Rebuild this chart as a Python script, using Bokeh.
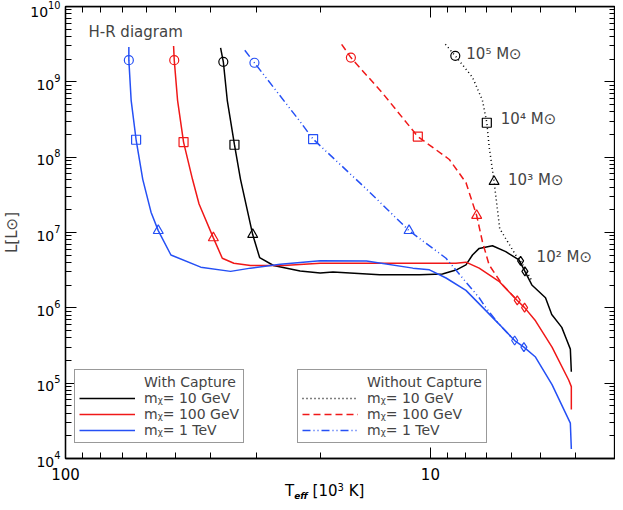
import numpy as np
from bokeh.plotting import figure
from bokeh.layouts import column
from bokeh.models import (Range1d, LogAxis, FixedTicker, NumeralTickFormatter,
                          CustomJSTickFormatter, Legend, LegendItem, Label, Div)
from bokeh.embed import file_html
from bokeh.resources import INLINE

# ---- data: log10(T_eff / 10^3 K), log10(L / L_sun) ----
# With capture
bk_wc_logT = [1.575, 1.5675, 1.5567, 1.537, 1.5204, 1.487, 1.468, 1.430, 1.357, 1.302, 1.267,
              1.139, 1.030, 0.967, 0.930, 0.9026, 0.8847, 0.8664, 0.830, 0.7936, 0.7574,
              0.741, 0.722, 0.6846, 0.6675, 0.640, 0.6293, 0.6165, 0.6138]
bk_wc_logL = [9.45, 9.266, 8.755, 8.165, 7.706, 6.9725, 6.667, 6.562, 6.488, 6.461, 6.4745,
              6.439, 6.439, 6.448, 6.501, 6.570, 6.701, 6.789, 6.824, 6.746, 6.636,
              6.484, 6.304, 6.134, 5.911, 5.7405, 5.610, 5.452, 5.151]
rd_wc_logT = [1.7038, 1.702, 1.6929, 1.6765, 1.652, 1.634, 1.5948, 1.5703, 1.5387, 1.493, 1.4024,
              1.302, 1.175, 0.930, 0.9026, 0.8664, 0.812, 0.762, 0.7419, 0.712, 0.6667,
              0.6211, 0.6138, 0.6138]
rd_wc_logL = [9.476, 9.288, 8.755, 8.2005, 7.706, 7.379, 6.929, 6.658, 6.592, 6.562, 6.562,
              6.592, 6.592, 6.592, 6.606, 6.527, 6.3526, 6.098, 6.003, 5.828, 5.478,
              5.042, 4.954, 4.649]
bl_wc_logT = [1.8264, 1.8264, 1.8201, 1.8065, 1.7883, 1.7656, 1.7458, 1.7111, 1.6294, 1.5476,
              1.493, 1.4114, 1.302, 1.175, 1.048, 1.0026, 0.9571, 0.9026, 0.8481, 0.812,
              0.7691, 0.7438, 0.712, 0.6667, 0.6165, 0.6138]
bl_wc_logL = [9.463, 9.288, 8.755, 8.231, 7.706, 7.270, 7.025, 6.701, 6.540, 6.484,
              6.527, 6.579, 6.625, 6.6226, 6.527, 6.5046, 6.396, 6.232, 5.963, 5.784,
              5.566, 5.478, 5.347, 4.980, 4.469, 4.125]
# Without capture
bk_nc_logT = [0.959, 0.9318, 0.8847, 0.8574, 0.8454, 0.8391, 0.8255, 0.8165, 0.810, 0.7936,
              0.7664, 0.7528, 0.7391, 0.7212]
bk_nc_logL = [9.498, 9.345, 9.060, 8.755, 8.457, 8.143, 7.676, 7.313, 7.051, 6.920,
              6.701, 6.6226, 6.5046, 6.3526]
rd_nc_logT = [1.2433, 1.2179, 1.130, 1.0345, 0.9481, 0.9026, 0.8732, 0.8574, 0.8391, 0.8029, 0.762]
rd_nc_logL = [9.498, 9.322, 8.843, 8.274, 7.969, 7.663, 7.2255, 6.877, 6.570, 6.308, 6.098]
bl_nc_logT = [1.5087, 1.4822, 1.3569, 1.3215, 1.175, 1.0585, 0.9571, 0.912, 0.8664, 0.8481,
              0.812, 0.7691]
bl_nc_logL = [9.419, 9.253, 8.4705, 8.240, 7.575, 7.025, 6.658, 6.396, 6.134, 6.003,
              5.784, 5.566]

# mass markers: 10^5, 10^4, 10^3, 10^2 M_sun
bk_wc_mk_logT = [1.5675, 1.537, 1.487, 0.741]
bk_wc_mk_logL = [9.266, 8.165, 6.9725, 6.484]
rd_wc_mk_logT = [1.702, 1.6765, 1.5948, 0.7419]
rd_wc_mk_logL = [9.288, 8.2005, 6.929, 6.003]
bl_wc_mk_logT = [1.8264, 1.8065, 1.7458, 0.7438]
bl_wc_mk_logL = [9.288, 8.231, 7.025, 5.478]
bk_nc_mk_logT = [0.9318, 0.8454, 0.8255, 0.7528]
bk_nc_mk_logL = [9.345, 8.457, 7.676, 6.6226]
rd_nc_mk_logT = [1.2179, 1.0345, 0.8732, 0.762]
rd_nc_mk_logL = [9.322, 8.274, 7.2255, 6.098]
bl_nc_mk_logT = [1.4822, 1.3215, 1.0585, 0.7691]
bl_nc_mk_logL = [9.253, 8.240, 7.025, 5.566]
mass_labels = ["10\u2075 M\u2299", "10\u2074 M\u2299", "10\u00b3 M\u2299", "10\u00b2 M\u2299"]
marker_shapes = ["circle", "square", "triangle", "diamond"]

legend_wc_title = "With Capture"
legend_nc_title = "Without Capture"
legend_labels = ["m\u1d6a= 10 GeV", "m\u1d6a= 100 GeV", "m\u1d6a= 1 TeV"]

x_major = [100, 10]
x_minor = [90, 80, 70, 60, 50, 40, 30, 20, 9, 8, 7, 6, 5, 4]
y_major = [1e4, 1e5, 1e6, 1e7, 1e8, 1e9, 1e10]
y_minor = [k * 10.0 ** n for n in range(4, 10) for k in range(2, 10)]
x_lo, x_hi = 100, 3.11
y_lo, y_hi = 1e4, 1e10

FONT = "DejaVu Sans"
BLACK, RED, BLUE = "#000000", "#f01818", "#2550f5"
W = 615


def pw(a):
    return list(10.0 ** np.array(a))


p = figure(width=W, height=482, x_axis_type="log", y_axis_type="log",
           x_range=Range1d(x_lo, x_hi), y_range=Range1d(y_lo, y_hi),
           output_backend="svg", toolbar_location=None,
           min_border_left=56, min_border_right=0, min_border_top=6, min_border_bottom=20)
p.xgrid.visible = False
p.ygrid.visible = False
p.outline_line_color = "black"
p.outline_line_width = 1.3
p.background_fill_color = "white"

bottom = p.below[0]
left = p.left[0]

xt = FixedTicker(ticks=x_major, minor_ticks=x_minor)
yt = FixedTicker(ticks=y_major, minor_ticks=y_minor)
bottom.ticker = xt
left.ticker = yt
bottom.formatter = NumeralTickFormatter(format="0")

blank_fmt = CustomJSTickFormatter(code="return ' ';")
top = LogAxis(ticker=xt, formatter=blank_fmt, fixed_location=y_hi)
right = LogAxis(ticker=yt, formatter=blank_fmt, fixed_location=x_hi)
p.add_layout(top, "above")
p.add_layout(right, "right")

for ax in [bottom, left, top, right]:
    ax.major_tick_in = 11
    ax.major_tick_out = 0
    ax.minor_tick_in = 6
    ax.minor_tick_out = 0
    ax.axis_line_color = "black"
    ax.axis_line_width = 1.3
    ax.major_tick_line_color = "black"
    ax.minor_tick_line_color = "black"
    ax.major_label_text_font = FONT
    ax.major_label_text_color = "black"
for ax in [top, right]:
    ax.major_label_text_font_size = "2px"
    ax.major_label_text_alpha = 0
    ax.major_label_standoff = 0
    ax.axis_label_standoff = 0

bottom.major_label_text_font_size = "15px"
bottom.major_label_standoff = 9
left.major_label_text_font_size = "14px"
left.major_label_standoff = 5
left.axis_label = "L[L\u2299]"
left.axis_label_text_font = FONT
left.axis_label_text_font_size = "15px"
left.axis_label_text_font_style = "normal"
left.axis_label_standoff = 6

series = [
    (bk_wc_logT, bk_wc_logL, bk_wc_mk_logT, bk_wc_mk_logL, BLACK, "solid"),
    (rd_wc_logT, rd_wc_logL, rd_wc_mk_logT, rd_wc_mk_logL, RED, "solid"),
    (bl_wc_logT, bl_wc_logL, bl_wc_mk_logT, bl_wc_mk_logL, BLUE, "solid"),
    (bk_nc_logT, bk_nc_logL, bk_nc_mk_logT, bk_nc_mk_logL, BLACK, "1 3"),
    (rd_nc_logT, rd_nc_logL, rd_nc_mk_logT, rd_nc_mk_logL, RED, "7 4"),
    (bl_nc_logT, bl_nc_logL, bl_nc_mk_logT, bl_nc_mk_logL, BLUE, "8 3 1 3 1 3"),
]
renderers = []
for lt, ll, mt, ml, col, dash in series:
    r = p.line(pw(lt), pw(ll), line_color=col, line_width=1.5, line_dash=dash)
    renderers.append(r)
    for i, shp in enumerate(marker_shapes):
        p.scatter([10.0 ** mt[i]], [10.0 ** ml[i]], marker=shp,
                  size=9 if shp != "triangle" else 10,
                  fill_color=None, line_color=col, line_width=1.2)

# text
p.add_layout(Label(x=86.5, y=10 ** 9.659, text="H-R diagram", text_font=FONT,
                   text_font_size="15px", text_baseline="middle"))
for i, txt in enumerate(mass_labels):
    p.add_layout(Label(x=10.0 ** bk_nc_mk_logT[i], y=10.0 ** bk_nc_mk_logL[i], text=txt,
                       text_font=FONT, text_font_size="15px", text_baseline="middle",
                       x_offset=[11, 14, 14, 16][i], y_offset=[2, 4, 2, 4][i]))

# header rows of the legends (no visible glyph)
blank = p.line(x=[50], y=[1e6], line_alpha=0)


def make_legend(title, rends, loc):
    items = [LegendItem(label=title, renderers=[blank])]
    items += [LegendItem(label=lab, renderers=[r]) for lab, r in zip(legend_labels, rends)]
    return Legend(items=items, location=loc, orientation="vertical",
                  border_line_color="#333333", border_line_width=1,
                  background_fill_color="white", background_fill_alpha=1,
                  label_text_font=FONT, label_text_font_size="14px",
                  glyph_width=56, glyph_height=14, label_height=14,
                  label_standoff=9, spacing=0, padding=4, margin=0)


p.add_layout(make_legend(legend_wc_title, renderers[:3], (9, 15)))
p.add_layout(make_legend(legend_nc_title, renderers[3:], (232, 15)))

# x axis title: T_eff [10^3 K]
xtitle = Div(text='T<sub style="font-size:9px;font-weight:bold;font-style:italic;'
                  'vertical-align:-3px">eff</sub> [10<sup style="font-size:10px;'
                  'vertical-align:5px">3</sup> K]',
             width=W - 285, height=12, margin=0,
             styles={"margin-left": "285px", "font-family": FONT, "font-size": "15px",
                     "line-height": "12px", "white-space": "nowrap", "color": "black"})

open("out.html", "w").write(file_html(column(p, xtitle, spacing=0), INLINE))
